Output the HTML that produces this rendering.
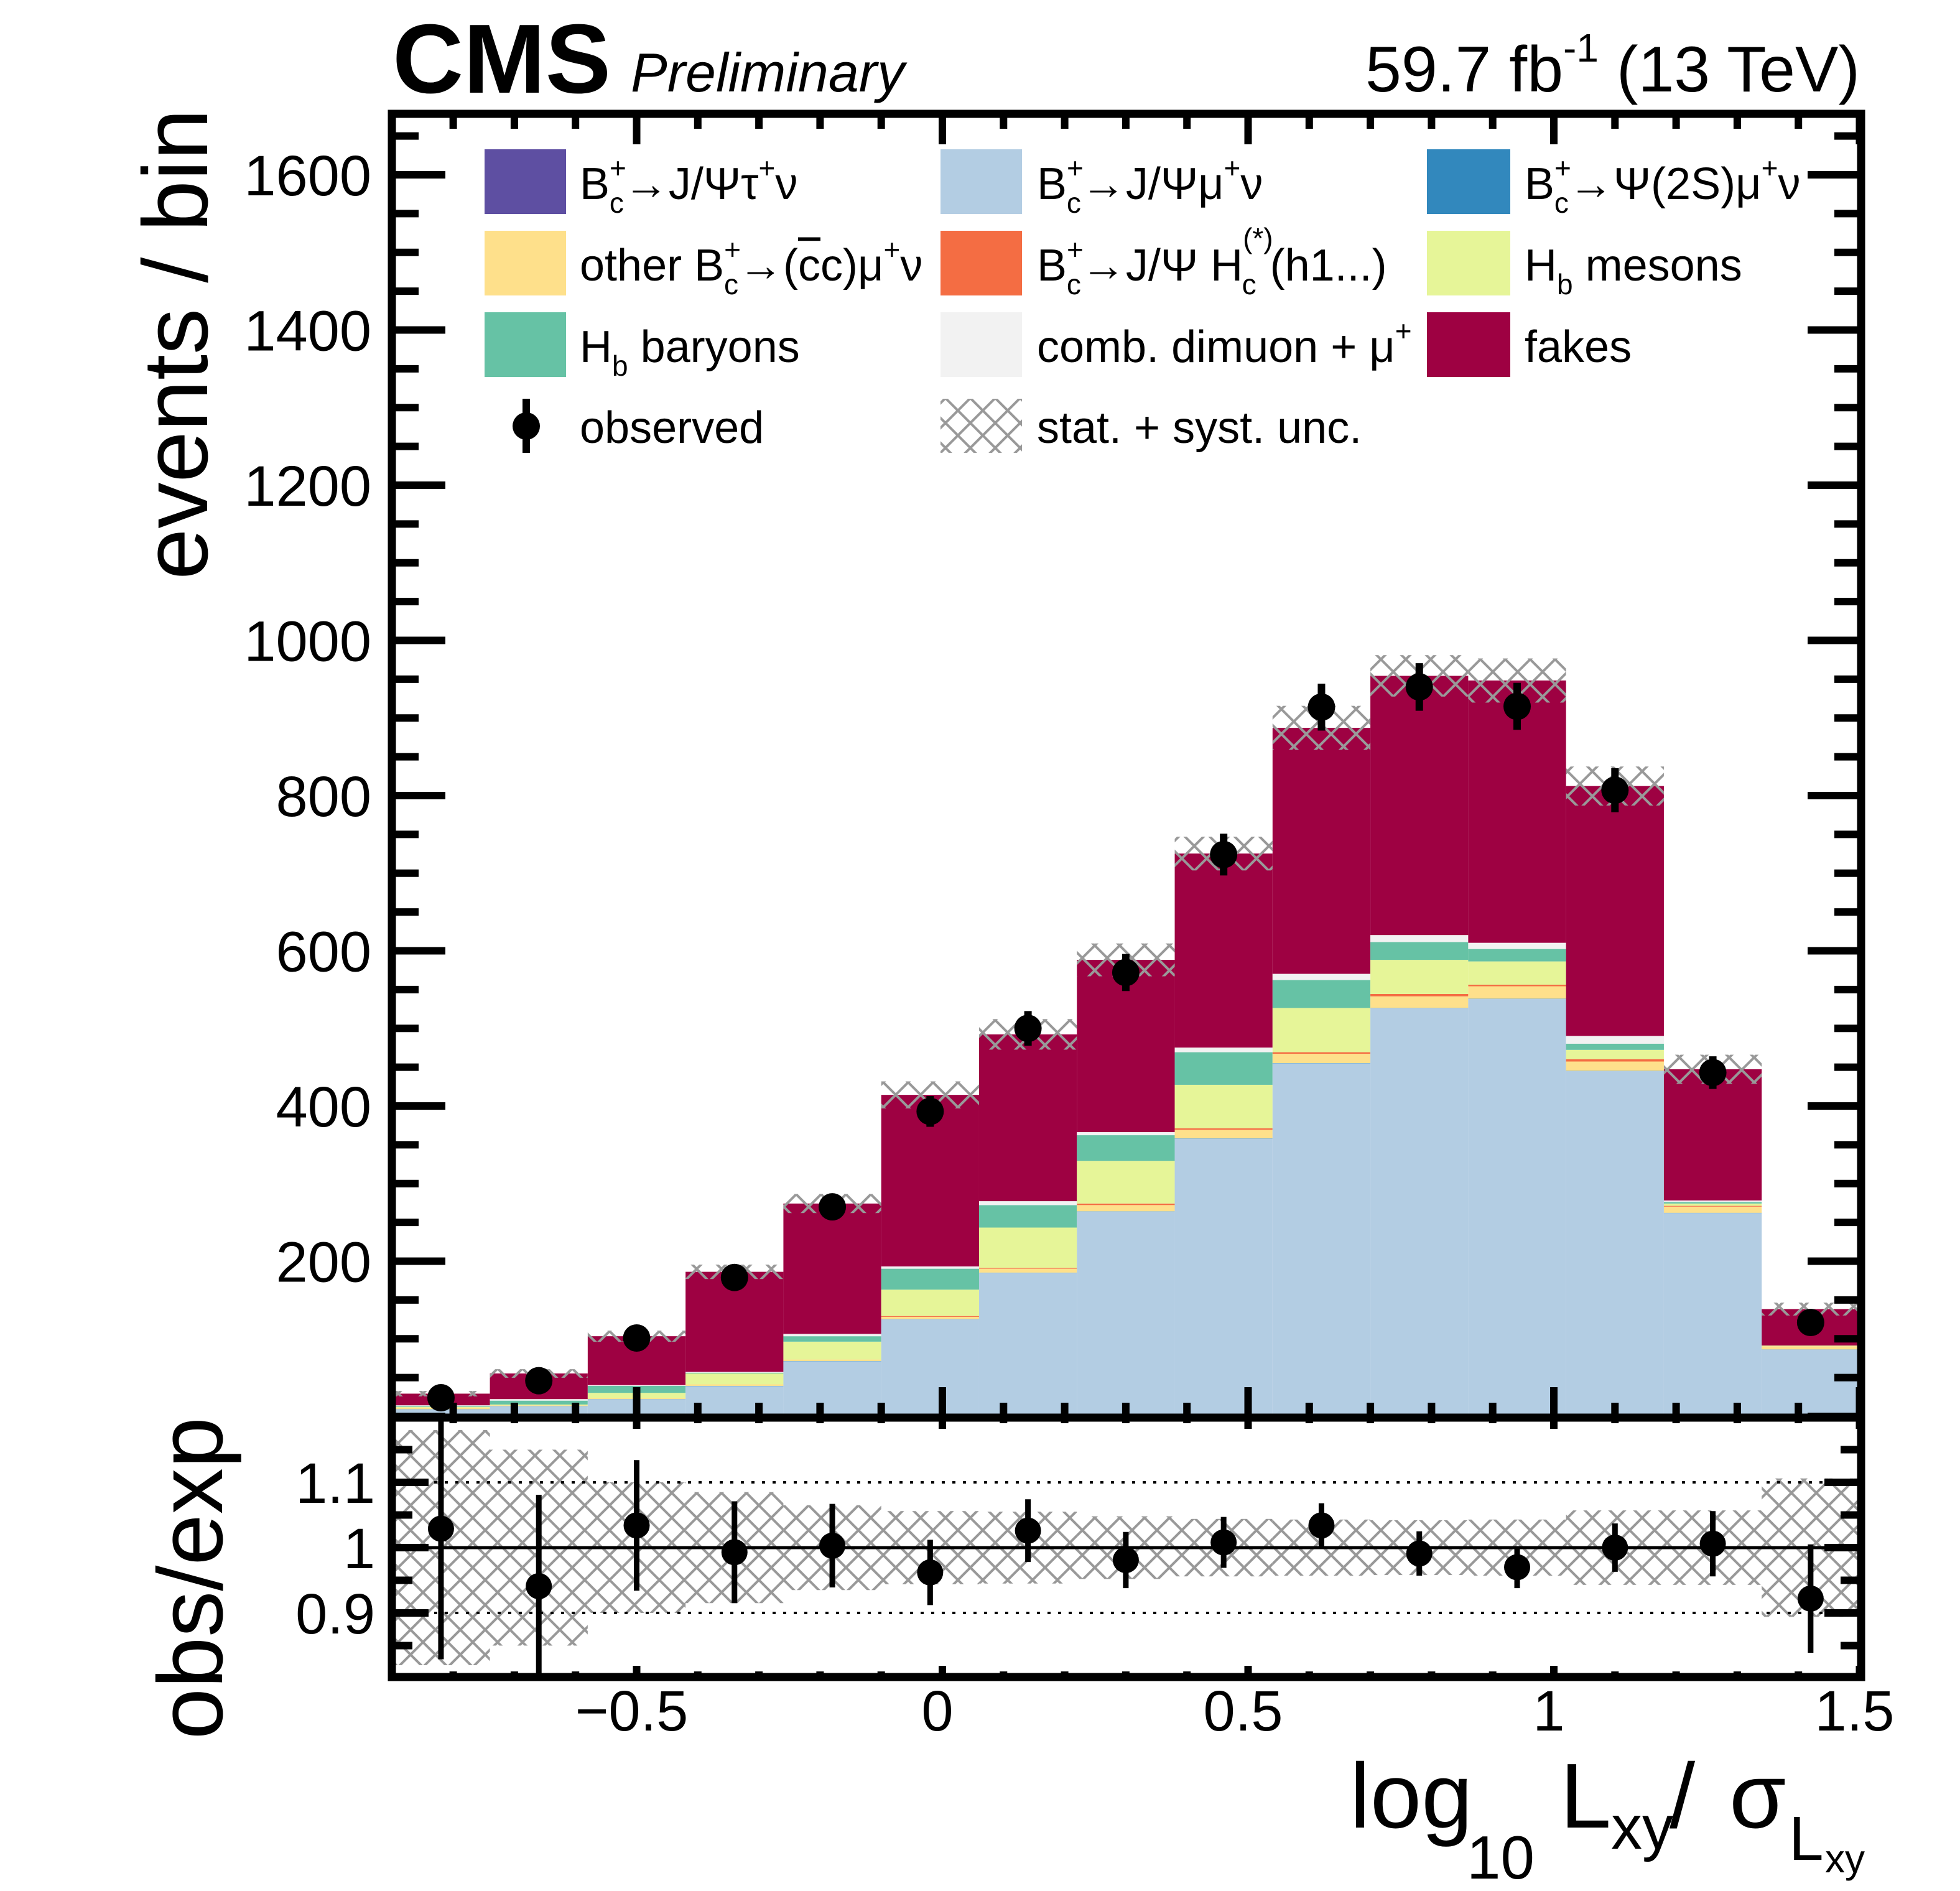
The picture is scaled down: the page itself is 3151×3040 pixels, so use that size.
<!DOCTYPE html>
<html><head><meta charset="utf-8"><style>
html,body{margin:0;padding:0;background:#fff;}
svg{display:block;font-family:"Liberation Sans",Arial,sans-serif;}
</style></head><body>
<svg id="chart" xmlns="http://www.w3.org/2000/svg" width="3151" height="3040" viewBox="0 0 3151 3040">
<defs>
<pattern id="hatch" patternUnits="userSpaceOnUse" width="40" height="40">
<path d="M0,0 L40,40 M40,0 L0,40" stroke="#999" stroke-width="4" fill="none"/>
</pattern>
<clipPath id="ratioClip"><rect x="636" y="2285" width="2350" height="405"/></clipPath>
</defs>
<rect x="0" y="0" width="3151" height="3040" fill="#fff"/>
<g id="mainMarks"></g>
<g id="ratioMarks" clip-path="url(#ratioClip)"></g>
<g id="axes"></g>

<text x="631" y="149" font-size="158" font-weight="bold">CMS</text>
<text x="1014" y="147" font-size="88" font-style="italic">Preliminary</text>
<text x="2990" y="147" font-size="104" text-anchor="end">59.7 fb<tspan font-size="64" dy="-48">-1</tspan><tspan dy="48"> (13 TeV)</tspan></text>

<text transform="translate(333,175) rotate(-90)" font-size="148" text-anchor="end">events / bin</text>
<text transform="translate(357,2278) rotate(-90)" font-size="148" text-anchor="end">obs/exp</text>
<g>
<text x="2170" y="2938" font-size="148">log</text>
<text x="2358" y="3020" font-size="98">10</text>
<text x="2508" y="2938" font-size="148">L</text>
<text x="2590" y="2972" font-size="100">xy</text>
<text x="2684" y="2938" font-size="148">/</text>
<text x="2780" y="2938" font-size="148">σ</text>
<text x="2876" y="2990" font-size="100">L</text>
<text x="2934" y="3010" font-size="64">xy</text>
</g>

<g id="legend" font-size="72">
<g><rect x="779" y="240" width="131" height="104" fill="#5e4fa2"/>
<text x="932" y="320">B<tspan font-size="46" dy="-34">+</tspan><tspan font-size="46" dx="-27" dy="56">c</tspan><tspan dy="-22">→J/Ψτ</tspan><tspan font-size="46" dy="-34">+</tspan><tspan dy="34">ν</tspan></text></g>
<g><rect x="1512" y="240" width="131" height="104" fill="#b3cde3"/>
<text x="1667" y="320">B<tspan font-size="46" dy="-34">+</tspan><tspan font-size="46" dx="-27" dy="56">c</tspan><tspan dy="-22">→J/Ψμ</tspan><tspan font-size="46" dy="-34">+</tspan><tspan dy="34">ν</tspan></text></g>
<g><rect x="2294" y="240" width="134" height="104" fill="#3288bd"/>
<text x="2451" y="320">B<tspan font-size="46" dy="-34">+</tspan><tspan font-size="46" dx="-27" dy="56">c</tspan><tspan dy="-22">→Ψ(2S)μ</tspan><tspan font-size="46" dy="-34">+</tspan><tspan dy="34">ν</tspan></text></g>
<g><rect x="779" y="371" width="131" height="104" fill="#fee08b"/>
<text x="932" y="451">other B<tspan font-size="46" dy="-34">+</tspan><tspan font-size="46" dx="-27" dy="56">c</tspan><tspan dy="-22">→(</tspan><tspan text-decoration="overline">c</tspan><tspan>c)μ</tspan><tspan font-size="46" dy="-34">+</tspan><tspan dy="34">ν</tspan></text></g>
<g><rect x="1512" y="371" width="131" height="104" fill="#f46d43"/>
<text x="1667" y="451">B<tspan font-size="46" dy="-34">+</tspan><tspan font-size="46" dx="-27" dy="56">c</tspan><tspan dy="-22">→J/Ψ H</tspan><tspan font-size="46" dy="-52">(*)</tspan><tspan font-size="46" dx="-50" dy="74">c</tspan><tspan dx="22" dy="-22">(h1...)</tspan></text></g>
<g><rect x="2294" y="371" width="134" height="104" fill="#e6f598"/>
<text x="2451" y="451">H<tspan font-size="46" dy="22">b</tspan><tspan dy="-22"> mesons</tspan></text></g>
<g><rect x="779" y="502" width="131" height="104" fill="#66c2a5"/>
<text x="932" y="582">H<tspan font-size="46" dy="22">b</tspan><tspan dy="-22"> baryons</tspan></text></g>
<g><rect x="1512" y="502" width="131" height="104" fill="#f2f2f2"/>
<text x="1667" y="582">comb. dimuon + μ<tspan font-size="46" dy="-34">+</tspan></text></g>
<g><rect x="2294" y="502" width="134" height="104" fill="#9e0142"/>
<text x="2451" y="582">fakes</text></g>
<g><line x1="846" y1="641" x2="846" y2="728" stroke="#000" stroke-width="12"/><circle cx="846" cy="685" r="22" fill="#000"/>
<text x="932" y="712">observed</text></g>
<g><rect x="1512" y="641" width="131" height="87" fill="url(#hatch)"/>
<text x="1667" y="712">stat. + syst. unc.</text></g>
</g>
</svg>
<script>
const binLow = -0.9, binWidth = 0.16;
const tau     = [2,2,3,3,3,3,3,3,3,3,3,3,3,3,2];
const jpsimu  = [7,11,19,36,68,122,182,261,355,452,523,535,442,259,84];
const psi2s   = [0.3,0.3,0.3,0.3,0.3,0.3,0.3,0.3,0.3,0.3,0.3,0.3,0.3,0.3,0.3];
const otherBc = [2,1,1,2,2,3,5,8,11,12,15,16,12,8,4];
const hcBc    = [0,0,0,0,0,1,1,2,2,2,3,2,3,1,0];
const mesons  = [1,1,7,14,23,34,52,55,56,57,44,30,12,3,1];
const baryons = [1,5,9,1,7,27,29,33,42,36,23,16,8,2,0];
const comb    = [1,2,1,1,3,3,5,4,6,8,9,8,10,2,0];
const fakes   = [15,33,63,129,168,221,215,222,250,317,334,338,322,169,47];
const observed = [24,46,101,179,270,393,500,572,724,914,940,915,807,443,121];
const mainUncFrac = [0.12,0.10,0.07,0.05,0.045,0.042,0.04,0.036,0.03,0.032,0.028,0.03,0.031,0.042,0.06];
const uncFrac  = [0.18,0.15,0.10,0.085,0.065,0.056,0.055,0.048,0.044,0.043,0.042,0.043,0.057,0.057,0.106];
const ratioVal = [1.029,0.941,1.034,0.993,1.003,0.962,1.026,0.981,1.008,1.034,0.991,0.970,1.0,1.006,0.922];
const ratioErr = [0.20,0.14,0.10,0.078,0.064,0.05,0.048,0.043,0.039,0.034,0.034,0.032,0.037,0.05,0.083];
const yTicks = [200,400,600,800,1000,1200,1400,1600];
const yTickLabels = ["200","400","600","800","1000","1200","1400","1600"];
const xTicks = [-0.5,0,0.5,1,1.5];
const xTickLabels = ["\u22120.5","0","0.5","1","1.5"];
const rTicks = [0.9,1,1.1];
const rTickLabels = ["0.9","1","1.1"];

const NS="http://www.w3.org/2000/svg";
const X0=630, X1=2992, YT=183, YB=2279, RB=2696;
function xs(v){return 1515 + v*983;}
function ys(v){return 2277 - v*1.2475;}
function rs(v){return 2488 - (v-1)*1050;}
function mk(tag, attrs, parent){const e=document.createElementNS(NS,tag);for(const k in attrs)e.setAttribute(k,attrs[k]);parent.appendChild(e);return e;}

const main=document.getElementById('mainMarks');
const ratio=document.getElementById('ratioMarks');
const axes=document.getElementById('axes');

const comps=[[tau,'#5e4fa2','tau'],[jpsimu,'#b3cde3','jpsimu'],[psi2s,'#3288bd','psi2s'],[otherBc,'#fee08b','other'],[hcBc,'#f46d43','hc'],[mesons,'#e6f598','mesons'],[baryons,'#66c2a5','baryons'],[comb,'#f2f2f2','comb'],[fakes,'#9e0142','fakes']];
const n=fakes.length;
const totals=[];
for(let i=0;i<n;i++){
  const xa=xs(binLow+i*binWidth), xb=xs(binLow+(i+1)*binWidth);
  let cum=0;
  for(const c of comps){
    const v=c[0][i]; if(v<=0) continue;
    const r=mk('rect',{x:xa,y:ys(cum+v),width:xb-xa,height:ys(cum)-ys(cum+v),fill:c[1]},main);
    
    
    cum+=v;
  }
  totals.push(cum);
}
for(let i=0;i<n;i++){
  const xa=xs(binLow+i*binWidth), xb=xs(binLow+(i+1)*binWidth);
  const t=totals[i], f=mainUncFrac[i], fr=uncFrac[i];
  const h=mk('rect',{x:xa,y:ys(t*(1+f)),width:xb-xa,height:ys(t*(1-f))-ys(t*(1+f)),fill:'url(#hatch)'},main);
  
  
  const hr=mk('rect',{x:xa,y:rs(1+fr),width:xb-xa,height:rs(1-fr)-rs(1+fr),fill:'url(#hatch)'},ratio);
  
  
}
const l1=mk('line',{x1:X0,x2:X1,y1:rs(1),y2:rs(1),stroke:'#000','stroke-width':5},ratio);


for(const v of [1.1,0.9]){
  const l=mk('line',{x1:X0,x2:X1,y1:rs(v),y2:rs(v),stroke:'#000','stroke-width':4,'stroke-dasharray':'5 12'},ratio);
  
  
}
for(let i=0;i<n;i++){
  const xc=xs(binLow+(i+0.5)*binWidth);
  const o=observed[i], e=Math.sqrt(o);
  const g=mk('g',{},main);
  
  
  mk('line',{x1:xc,x2:xc,y1:ys(o+e),y2:ys(o-e),stroke:'#000','stroke-width':12},g);
  mk('circle',{cx:xc,cy:ys(o),r:22,fill:'#000'},g);
  const gr=mk('g',{},ratio);
  
  
  mk('line',{x1:xc,x2:xc,y1:rs(ratioVal[i]+ratioErr[i]),y2:rs(ratioVal[i]-ratioErr[i]),stroke:'#000','stroke-width':9},gr);
  mk('circle',{cx:xc,cy:rs(ratioVal[i]),r:21,fill:'#000'},gr);
}
function tick(x1,y1,x2,y2){mk('line',{x1:x1,y1:y1,x2:x2,y2:y2,stroke:'#000','stroke-width':12},axes);}
for(let v=0; v<=1650; v+=50){
  const y=ys(v); if(y<YT) continue;
  const L=(v%200===0)?86:43;
  tick(X0,y,X0+L,y); tick(X1,y,X1-L,y);
}
for(let k=-8;k<=15;k++){
  const x=xs(k/10); if(x<X0-1||x>X1+1) continue;
  const maj=(k%5===0);
  tick(x,YT,x,YT+(maj?49:24)); tick(x,YB,x,YB-(maj?49:24));
  tick(x,YB,x,YB+(maj?18:9)); tick(x,RB,x,RB-(maj?18:9));
}
for(let k=0;k<=6;k++){
  const v=0.85+k*0.05;
  const y=rs(v); const maj=(k===1||k===3||k===5);
  const L=maj?59:33;
  tick(X0,y,X0+L,y); tick(X1,y,X1-L,y);
}
const f1=mk('rect',{x:X0,y:YT,width:X1-X0,height:YB-YT,fill:'none',stroke:'#000','stroke-width':13},axes);


const f2=mk('rect',{x:X0,y:YB,width:X1-X0,height:RB-YB,fill:'none',stroke:'#000','stroke-width':13},axes);


yTicks.forEach((v,i)=>{
  const t=mk('text',{x:597,y:ys(v)+33,'font-size':92,'text-anchor':'end'},axes);
  t.textContent=yTickLabels[i];
  
  
});
rTicks.forEach((v,i)=>{
  const t=mk('text',{x:603,y:rs(v)+33,'font-size':92,'text-anchor':'end'},axes);
  t.textContent=rTickLabels[i];
  
  
});
xTicks.forEach((v,i)=>{
  const t=mk('text',{x:xs(v)-8,y:2782,'font-size':92,'text-anchor':'middle'},axes);
  t.textContent=xTickLabels[i];
  
  
});
</script>
</body></html>
